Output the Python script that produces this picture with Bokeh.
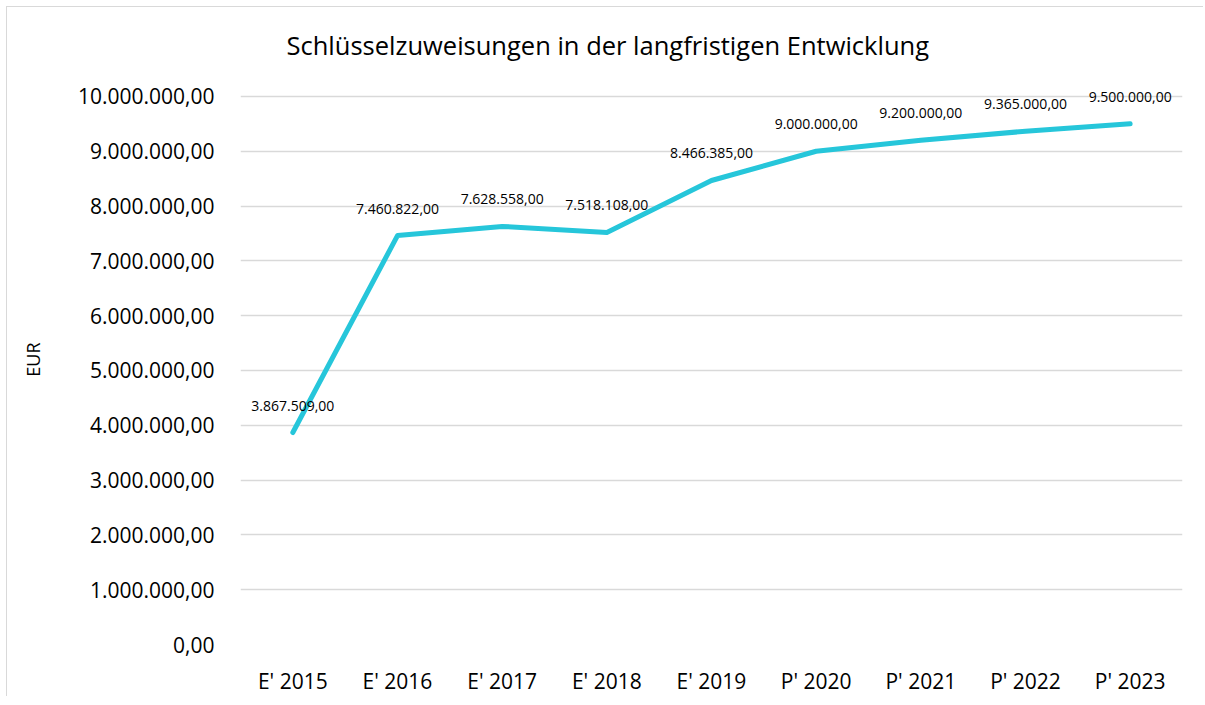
from bokeh.plotting import figure
from bokeh.models import ColumnDataSource, FactorRange, Range1d, FixedTicker
from bokeh.core.properties import value
from bokeh.embed import file_html
from bokeh.resources import INLINE

categories = ["E' 2015", "E' 2016", "E' 2017", "E' 2018", "E' 2019",
              "P' 2020", "P' 2021", "P' 2022", "P' 2023"]
amounts = [3867509, 7460822, 7628558, 7518108, 8466385,
           9000000, 9200000, 9365000, 9500000]
y_ticks = [0, 1000000, 2000000, 3000000, 4000000, 5000000,
           6000000, 7000000, 8000000, 9000000, 10000000]


def de_fmt(v):
    s = f"{v:,.2f}"
    return s.replace(",", "X").replace(".", ",").replace("X", ".")


FONT = "Open Sans"

source = ColumnDataSource(data=dict(
    cat=categories,
    val=amounts,
    lbl=[de_fmt(v) for v in amounts],
))

p = figure(
    width=1197, height=690,
    x_range=FactorRange(*categories, range_padding=0),
    y_range=Range1d(0, 10400000),
    output_backend="svg", toolbar_location=None,
    min_border_left=233, min_border_right=22,
    min_border_top=67, min_border_bottom=51,
    styles={"margin-left": "6px", "margin-top": "6px",
            "border-left": "1px solid #d9d9d9", "border-top": "1px solid #d9d9d9"},
)

p.title.text = "Schlüsselzuweisungen in der langfristigen Entwicklung"
p.title.text_font = FONT
p.title.text_font_size = "25.5px"
p.title.text_font_style = "normal"
p.title.text_color = "black"
p.title.align = "left"
p.title.offset = 46
p.title.standoff = 25

p.outline_line_color = None
p.background_fill_color = "white"
p.border_fill_color = "white"

p.xgrid.grid_line_color = None
p.ygrid.grid_line_color = "#d9d9d9"
p.ygrid.grid_line_width = 1.3

p.yaxis.ticker = FixedTicker(ticks=y_ticks)
p.yaxis.major_label_overrides = {t: de_fmt(t) for t in y_ticks}
for ax in (p.xaxis[0], p.yaxis[0]):
    ax.axis_line_color = None
    ax.major_tick_line_color = None
    ax.minor_tick_line_color = None
    ax.major_label_text_font = FONT
    ax.major_label_text_font_size = "21px"
    ax.major_label_text_color = "black"

p.yaxis.major_label_standoff = 20
p.xaxis.major_label_standoff = 16
p.yaxis.axis_label = "EUR"
p.yaxis.axis_label_text_font = FONT
p.yaxis.axis_label_text_font_size = "18px"
p.yaxis.axis_label_text_font_style = "normal"
p.yaxis.axis_label_text_color = "black"
p.yaxis.axis_label_standoff = 30

p.line(x="cat", y="val", source=source, line_color="#26c6da",
       line_width=5, line_cap="round", line_join="round")

p.text(x="cat", y="val", text="lbl", source=source,
       text_font=value(FONT), text_font_size="14px", text_color="black",
       text_align="center", text_baseline="middle", y_offset=-27)

open("out.html", "w").write(file_html(p, INLINE))
